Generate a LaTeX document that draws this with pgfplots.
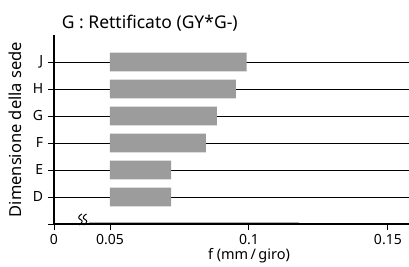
\documentclass[border=0pt]{standalone}
\usepackage{fontspec}
\setmainfont{Noto Sans}
\usepackage{pgfplots}
\usepackage{pgfplotstable}
\pgfplotsset{compat=1.18}
\pgfplotstableread{
y f
1 0.072
2 0.072
3 0.0845
4 0.0885
5 0.0953
6 0.0992
}\bars
\definecolor{bargray}{HTML}{9C9C9C}
\begin{document}
\fontsize{14bp}{16bp}\selectfont
\begin{tikzpicture}
\begin{axis}[
  scale only axis, width=355bp, height=189bp,
  xmin=0.02986, xmax=0.1576, ymin=0, ymax=7,
  axis x line*=bottom, axis y line*=left,
  axis line style={line width=2.6bp, black},
  xtick={0.02986,0.05,0.1,0.15}, xticklabels={0,0.05,0.1,0.15},
  ytick={0,1,...,6}, yticklabels={,D,E,F,G,H,J},
  tick style={black, line width=0.9bp},
  tick align=outside, major tick length=6bp,
  xticklabel style={anchor=base, yshift=-14bp, font=\fontsize{14bp}{16bp}\selectfont},
  yticklabel style={anchor=east, font=\fontsize{14bp}{16bp}\selectfont},
  /pgf/number format/assume math mode=true,
  ymajorgrids, grid style={black, line width=0.8bp},
  xbar stacked, bar width=18.7bp,
  clip=false,
]
\addplot[draw=none, fill=none, forget plot] table[x expr=0.05, y=y] {\bars};
\addplot[draw=none, fill=bargray] table[x expr=\thisrow{f}-0.05, y=y] {\bars};
\coordinate (brk) at (axis cs:0.0402,0);
\coordinate (g1) at (axis cs:0.0425,0);
\coordinate (g2) at (axis cs:0.1180,0);
\end{axis}
\draw[bargray!80, line width=1bp] ([yshift=1.6bp]g1) -- ([yshift=1.6bp]g2);
\foreach \dx in {-2.3bp,2.3bp}{
  \draw[black, line width=1bp, shift={(brk)}, xshift=\dx]
    (-1.5bp,-1bp) .. controls (2.5bp,1.5bp) and (2.5bp,3.5bp) .. (0bp,4.5bp)
    .. controls (-2.5bp,5.5bp) and (-2.5bp,8bp) .. (1.5bp,10bp);
}
\node[anchor=base west, font=\fontsize{17.5bp}{20bp}\selectfont] at ([xshift=3bp,yshift=6bp]current axis.north west) {G : Rettificato (GY*G-)};
\node[rotate=90, anchor=center, font=\fontsize{16.5bp}{18bp}\selectfont] at ([xshift=-39bp]current axis.west) {Dimensione della sede};
\path (current axis.south west) ++(195bp,-35.5bp) node[anchor=base, font=\fontsize{14.5bp}{17bp}\selectfont] {f (mm\,/\,giro)};
\pgfresetboundingbox
\path[use as bounding box] ([shift={(-54bp,-43bp)}]current axis.south west) rectangle ([shift={(0bp,35bp)}]current axis.north east);
\end{tikzpicture}
\end{document}
